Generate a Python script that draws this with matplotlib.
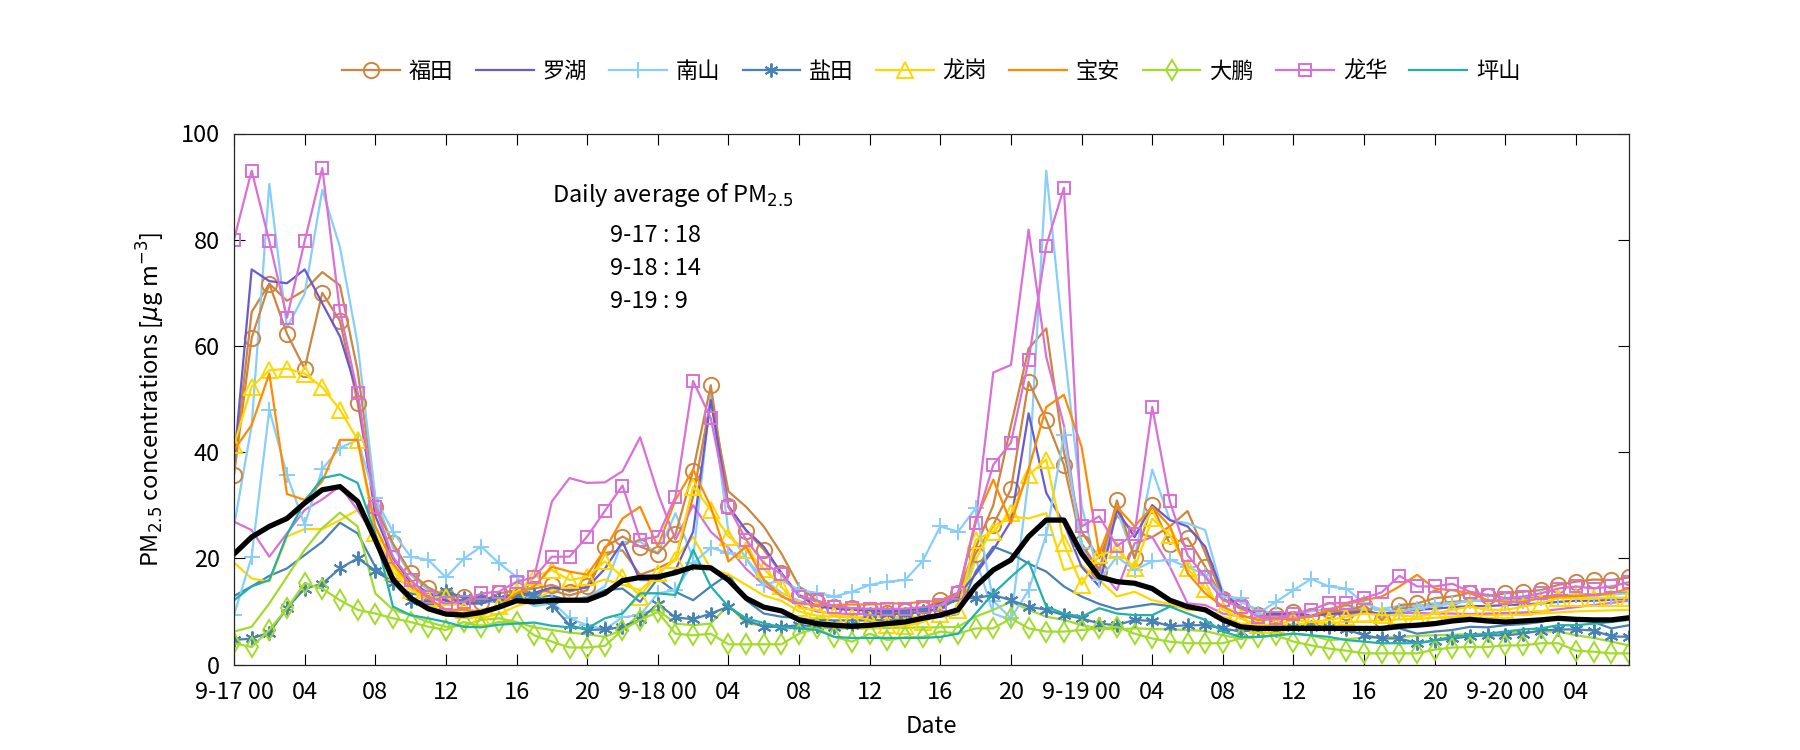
import numpy as np
import matplotlib
matplotlib.use('Agg')
import matplotlib.pyplot as plt

plt.rcParams['font.family'] = ['Noto Sans CJK SC', 'DejaVu Sans']
plt.rcParams['axes.unicode_minus'] = False

# hourly data, hour 0 = 9-17 00:00 ... hour 79 = 9-20 07:00
hours = np.arange(80)

futian = [35.7, 61.5, 71.7, 62.3, 55.7, 70, 64.7, 49.3, 29.7, 22.8, 17.3, 14.5, 12.9, 12.8, 11.8, 13.4,
          14, 14.3, 15, 13.7, 14.7, 22.1, 24.1, 22.2, 20.9, 24.5, 36.5, 52.6, 29.9, 25.2, 21.6, 17.2,
          13.1, 11.8, 10.9, 10.6, 10.3, 9.7, 10.1, 10.4, 12.1, 13.4, 20.9, 26.3, 33, 53.2, 46.1, 37.6,
          22.8, 17.7, 30.9, 20, 30, 22.7, 23.8, 18.4, 12.3, 11, 9.3, 9.3, 9.9, 9.1, 10.3, 9.9,
          11.2, 8.4, 11.2, 11.5, 12.5, 12.8, 13.5, 12.9, 13.4, 13.7, 14, 15, 15.6, 16, 15.9, 16.4]
futian_2 = [37, 66.4, 71.7, 68.5, 70.5, 73.9, 71.4, 55.4, 31, 22.5, 17, 14, 12.5, 12, 11.5, 12.5,
            13.5, 13.5, 14, 13, 14, 21, 21.5, 16.9, 18.1, 19.7, 31.6, 50, 32.6, 29.7, 26, 20.9,
            14.7, 12, 11, 10.5, 10.2, 10, 10.2, 10.5, 12, 13.5, 22, 30, 45, 59.5, 63.3, 40,
            25, 20, 28, 25, 24, 26, 28.9, 21, 12.5, 10.5, 9.5, 9.2, 9.5, 9.2, 10, 9.8,
            10.5, 9, 10.5, 11, 11.5, 11.8, 12, 12, 12.2, 12.4, 12.8, 13, 13.2, 13.2, 13.4, 13.6]
luohu = [38, 74.4, 72.2, 71.8, 74.4, 68, 61.8, 51, 28, 20, 15.5, 13.5, 12, 11.5, 11.5, 12.5,
         13, 13.5, 14.5, 14, 14.5, 18, 23.1, 15.9, 15.9, 17.8, 25, 49.8, 29.7, 25.3, 22.2, 17.2,
         13, 11, 10.5, 10.3, 10.2, 10, 10.2, 10.5, 11.5, 13, 17, 21.6, 27, 47.3, 32.3, 26.6,
         18.4, 14.7, 29.1, 24, 30, 27.2, 26, 22.2, 13.4, 10.9, 9.5, 9.5, 9.5, 9.3, 9.5, 9.7,
         10, 9.5, 10, 10.3, 10.5, 10.8, 11, 11, 11.2, 11.3, 11.5, 11.8, 12, 12, 12.2, 12.4]
nanshan = [9.3, 20.3, 48, 35.7, 26.3, 36.8, 40.8, 42.3, 31.3, 25, 20.3, 19.7, 16.4, 19.9, 22.2, 19.1,
           16.5, 12.8, 11.8, 8.7, 7.4, 6.6, 8.9, 9.3, 13.4, 14, 19.1, 22, 21, 20, 15, 15.9,
           14, 13.5, 12.8, 13.7, 15, 15.6, 15.9, 19.5, 26, 25, 29.4, 12, 8.7, 14, 24.4, 43.2,
           22, 15.9, 20.3, 17.8, 19.4, 19.7, 18.4, 16.9, 12.8, 12.5, 9.6, 11.8, 14, 16.1, 14.7, 14.3,
           11.5, 10.3, 10, 10.5, 11, 11.5, 12, 12, 12, 12, 12.5, 12.5, 13, 12.5, 12.5, 12.5]
nanshan_2 = [26, 45, 90.5, 63.4, 69.8, 89.4, 78.6, 60.4, 31.6, 22, 17, 14, 12, 11.5, 11.5, 12,
             13, 11, 11.5, 12, 12.8, 14.7, 23.1, 23.1, 21, 28.5, 20, 51, 25, 20, 16, 13.5,
             12, 11, 10.5, 10.5, 10.3, 10.3, 10.5, 10.5, 11, 12.1, 20, 9.6, 8.4, 35, 93, 60,
             30, 16, 29.1, 20, 36.7, 27.2, 26.6, 25.3, 13.4, 11.8, 10.3, 9.5, 9.5, 10, 10.5, 11,
             10.5, 10.5, 11, 11, 11.5, 11.5, 12, 12, 12, 12.2, 12.4, 12.6, 12.8, 13, 13.2, 13.4]
yantian = [4.6, 4.9, 6, 10.6, 14.3, 15.2, 18.1, 20, 17.7, 15.4, 12, 11.8, 13.9, 12.5, 12.5, 12.5,
           13, 13, 11.2, 7.4, 6.5, 6.6, 7.1, 8.5, 11.4, 8.9, 8.5, 9.6, 10.9, 8.4, 7.1, 7.1,
           7.4, 7.2, 7, 7.5, 9.5, 9.5, 9.5, 10, 10.5, 12.5, 12.5, 13.1, 12.1, 10.9, 10.3, 9.3,
           8.7, 7.7, 7.4, 8.4, 8.2, 7.2, 7.4, 7.4, 6.8, 6.2, 6.5, 6.5, 7, 7, 7, 6.6,
           5.5, 4.9, 4.9, 4, 4.5, 4.9, 5.3, 5.5, 5.5, 5.8, 6.4, 6.6, 6.6, 6.4, 5.3, 5.2]
yantian_2 = [12.9, 14.7, 16.7, 18.1, 20.6, 23.1, 26.7, 24.7, 18.4, 15.3, 13.4, 12.8, 12.1, 12.1, 12.1, 12.3,
             12.5, 12.5, 13, 12, 12.5, 14, 14.3, 11.8, 16.2, 13.7, 12.1, 14.7, 17, 12.1, 9.6, 9,
             8.7, 8.4, 8.3, 8.3, 8.3, 8.4, 8.5, 8.7, 9, 9.5, 17.5, 22.2, 20.9, 19, 17.5, 14.7,
             12.8, 11.4, 10.4, 10.9, 11.4, 11, 10.9, 10.3, 8.4, 7.2, 7.1, 7.1, 7.4, 7.4, 7.1, 7,
             6.8, 6.5, 6.8, 5.8, 6.2, 6.5, 7.1, 7, 7.4, 7.6, 8, 8.8, 8.5, 8, 6.8, 7.4]
longgang = [41.3, 52.3, 55.4, 55.7, 54.8, 52.2, 48, 42.3, 24.7, 17.5, 14, 12.5, 12.8, 10.3, 9, 11,
            13.7, 16.5, 17.8, 15.9, 16.5, 19.4, 16.5, 12.8, 17.2, 19.7, 33.5, 29.1, 24.1, 21.6, 18, 14.7,
            10.6, 10.3, 9.3, 9, 8.4, 7.4, 7.2, 8, 9.6, 10.3, 23.5, 25, 28.5, 35.7, 38.6, 22.8,
            15, 20.6, 21.6, 18.1, 27.5, 24.4, 18.1, 14.3, 10.3, 8.7, 7.4, 7.4, 8.4, 8, 8.4, 9,
            9.6, 9.3, 9.2, 9, 9.6, 10.3, 10.9, 10.3, 10.3, 10.9, 11.5, 12.5, 12.5, 12.5, 12.6, 12.6]
longgang_2 = [19.2, 16.2, 15.6, 24.1, 25.5, 25.5, 27.2, 29.1, 24.1, 18.4, 14.7, 11.5, 9.6, 9.3, 8.7, 9.5,
              11, 12, 14, 14.5, 15, 16, 15, 14, 17, 20, 24, 18, 17, 15, 13, 12,
              10, 9.2, 9, 8.9, 8.9, 8.9, 9, 9, 9.3, 9.6, 19.7, 26, 27.9, 27.5, 28.5, 17.8,
              18.7, 15.9, 12.8, 13.7, 12.1, 11.4, 10.3, 10.3, 9, 7.7, 7.5, 7.5, 7.6, 7.7, 7.8, 8,
              8.1, 8.3, 8.5, 8.6, 8.8, 9, 9.2, 9.3, 9.4, 9.5, 9.6, 9.8, 10, 10.1, 10.2, 10.3]
baoan = [40.4, 45.1, 54.8, 32.1, 31, 34.5, 42.3, 42.3, 26, 19, 15, 12.5, 10.3, 10.3, 10, 11,
         13.4, 14.7, 18.4, 17.5, 16.9, 21.6, 27.5, 29.7, 22.2, 31, 36.7, 29.7, 19.4, 22.2, 15.9, 12.8,
         11.5, 11.2, 11.2, 11.3, 11.3, 11.5, 11.5, 11.8, 12, 13, 27.2, 34.8, 26.6, 36.8, 48.5, 50.8,
         41, 20.9, 29.7, 26, 29.7, 26, 17.2, 13.4, 10.9, 9.3, 8.4, 8.5, 8.6, 9, 10.3, 11.4,
         12.1, 12.8, 14.7, 16.9, 14.3, 14, 13.4, 12.1, 11.8, 11.8, 12.5, 12.8, 12.9, 13.1, 13.4, 14.3]
dapeng = [4, 3.3, 6.5, 10.6, 15.3, 14.3, 12.1, 10.3, 9.6, 8.7, 8, 7.1, 6.5, 8, 7.1, 8,
          8, 5.5, 4.3, 3.2, 3.2, 3.5, 6.5, 8.4, 9.9, 5.8, 5.5, 5.8, 3.8, 3.8, 3.8, 3.8,
          5.8, 6.8, 5.2, 4.3, 5.8, 4.6, 5.1, 5.2, 6.2, 5.8, 6.8, 6.8, 8.7, 6.8, 6.2, 6.2,
          6.5, 6.8, 7.1, 5.8, 4.9, 4.3, 4, 4, 4, 4.9, 5.2, 5.5, 4.3, 3.6, 3, 2.6,
          2.1, 2.1, 2.1, 2.1, 2.8, 3.2, 3.3, 3.3, 3.6, 3.6, 4, 4, 2.6, 2.4, 2.1, 2.1]
dapeng_2 = [6.2, 7.1, 11.5, 16.5, 21.6, 25.7, 28.6, 26, 13.4, 10.3, 9.3, 8, 7.1, 7.3, 8.4, 8.7,
            8, 7, 6.5, 6, 5.7, 5.2, 6.5, 9.6, 10.3, 7.7, 7.4, 7.7, 11.2, 7.7, 7.4, 7.1,
            7, 6.9, 6.8, 6.8, 6.8, 6.9, 6.9, 7, 7, 7.1, 9, 10.3, 11.8, 10.3, 9, 8.4,
            7.4, 6.8, 6.6, 6.8, 6.7, 6.6, 6.5, 6.3, 5.5, 4.9, 5.2, 5.5, 5.8, 5.5, 4.6, 4.8,
            5, 5.1, 5.2, 5.4, 5.5, 5.6, 5.7, 5.8, 6, 6.1, 6.2, 6.2, 5.5, 5, 4.3, 3.6]
longhua = [80, 93, 79.7, 65.3, 79.7, 93.5, 66.5, 51.2, 29.7, 20.3, 15.9, 12.8, 11.5, 11.8, 13.4, 13.7,
           15.6, 16.4, 20.3, 20.3, 24.1, 28.9, 33.7, 23.5, 24.1, 31.6, 53.4, 46.4, 29.7, 23.5, 19.1, 17,
           12.8, 12.1, 10.9, 10.6, 10.5, 10.5, 10.5, 10.8, 11.2, 13.4, 26.6, 37.6, 41.8, 57.3, 78.9, 89.8,
           26, 27.9, 22.3, 24.6, 48.5, 30.7, 20.6, 16.5, 12.1, 10.9, 9, 8.7, 9.6, 10.3, 11.5, 11.6,
           12.5, 13.6, 16.7, 14.7, 14.7, 15.2, 13.7, 13.1, 12.5, 12.8, 13.4, 14.3, 14.7, 14.3, 14.7, 15.5]
longhua_2 = [26.9, 25.3, 20.3, 24.7, 29.1, 31.1, 33.6, 29.1, 24, 16.5, 14.7, 12.1, 10.3, 9.6, 10.3, 10.5,
             12.8, 16.5, 30.7, 35.1, 34.2, 34.3, 36.4, 42.8, 32.3, 23.5, 30, 25, 22, 18, 15, 13,
             11, 10, 9.6, 9.5, 9.5, 9.5, 9.6, 9.8, 10.5, 13, 27, 55, 56.4, 81.9, 57.9, 45,
             22, 18, 14, 22.8, 24, 18.4, 11.5, 11.2, 9.6, 9, 8.8, 8.8, 9, 9.2, 9.4, 9.5,
             9.6, 9.6, 9.7, 9.7, 9.6, 9.6, 9.5, 9.6, 9.7, 9.8, 10, 10.4, 10.8, 11.2, 11.6, 12]
pingshan = [12.1, 14.7, 15.9, 24.4, 30.7, 35.1, 35.8, 34.2, 24.7, 10.9, 9.3, 8.7, 8, 7.1, 7, 7.5,
            7.7, 7.9, 7.3, 7, 6.8, 8.7, 9.6, 13.4, 13.4, 13.1, 21.6, 14.7, 10.9, 8.7, 7.8, 7,
            6.8, 6.5, 5.2, 5, 5, 5, 5, 5, 5.2, 5.8, 9.6, 13.4, 16.5, 19.4, 10.9, 9.6,
            9, 10.6, 9.6, 9.3, 9.3, 10.9, 9.6, 8.4, 6.2, 5.2, 5.2, 5.5, 5.8, 5.5, 5.2, 4.6,
            4.3, 4, 4, 4, 4.6, 5.2, 5.5, 5.8, 6.2, 6.6, 6.8, 7.4, 7.4, 7.7, 8, 8.4]
mean_all = [20.8, 24, 26, 27.5, 30.4, 32.9, 33.5, 30.7, 23.5, 16, 12.5, 10.5, 9.5, 9.3, 9.8, 10.8,
            12, 11.8, 12.1, 12.1, 12.1, 13.4, 15.8, 16.4, 16.5, 17.3, 18.4, 18.2, 15.9, 12.5, 10.8, 10.1,
            8.4, 7.7, 7.4, 7.2, 7.4, 7.7, 8, 8.7, 9.3, 10.3, 14.7, 17.8, 19.7, 24.1, 27.2, 27.2,
            20.9, 16.5, 15.6, 15.3, 14.3, 12.1, 10.9, 10.3, 8.4, 7.1, 6.8, 6.8, 6.8, 6.8, 6.8, 6.8,
            6.8, 6.8, 7.2, 7.4, 7.7, 8.2, 8.5, 8.2, 8, 8.2, 8.4, 8.7, 8.5, 8.4, 8.4, 8.8]

tick_hours = np.arange(0, 80, 4)
tick_labels = ['9-17 00', '04', '08', '12', '16', '20',
               '9-18 00', '04', '08', '12', '16', '20',
               '9-19 00', '04', '08', '12', '16', '20',
               '9-20 00', '04']

lime = '#a2dc2a'
asterisk = (6, 2, 0)
# (name, data, colour, marker)
series = [
    ('福田', futian, 'peru', 'o'),
    ('罗湖', luohu, 'slateblue', None),
    ('南山', nanshan, 'lightskyblue', '+'),
    ('盐田', yantian, 'steelblue', asterisk),
    ('龙岗', longgang, 'gold', '^'),
    ('宝安', baoan, 'darkorange', None),
    ('大鹏', dapeng, lime, 'd'),
    ('龙华', longhua, 'orchid', 's'),
    ('坪山', pingshan, 'lightseagreen', None),
]
twins = [
    (futian_2, 'peru'), (nanshan_2, 'lightskyblue'), (yantian_2, 'steelblue'),
    (longgang_2, 'gold'), (dapeng_2, lime), (longhua_2, 'orchid'),
]
msize = {'o': 11, '+': 11, '^': 11, 'd': 10, 's': 8}

fig = plt.figure(figsize=(18, 7.5), dpi=100)
ax = fig.add_axes([0.130, 0.114, 0.775, 0.708])

for data, c in twins:
    ax.plot(hours, data, color=c, lw=1.6)

handles = []
for name, data, c, m in series:
    if m is None:
        h, = ax.plot(hours, data, color=c, lw=1.6, label=name)
    else:
        ms = msize.get(m, 10) if isinstance(m, str) else 10
        h, = ax.plot(hours, data, color=c, lw=1.6, marker=m, markersize=ms,
                     markerfacecolor='none', markeredgewidth=1.4, label=name)
    handles.append(h)

ax.plot(hours, mean_all, color='black', lw=3.8)

ax.set_xlim(0, 79)
ax.set_ylim(0, 100)
ax.set_xticks(tick_hours)
ax.set_xticklabels(tick_labels)
ax.set_yticks(np.arange(0, 101, 20))
ax.tick_params(direction='in', top=True, right=True, labelsize=17, length=8, width=0.8)
ax.tick_params(axis='x', pad=12)
ax.tick_params(axis='y', pad=10)
for s in ax.spines.values():
    s.set_linewidth(0.9)
    s.set_color('#262626')

ax.set_xlabel('Date', fontsize=17, labelpad=8)
ax.set_ylabel('PM$_{2.5}$ concentrations [$\\mu$g m$^{-3}$]', fontsize=17, labelpad=10)

ax.text(18, 88.5, 'Daily average of PM$_{2.5}$', fontsize=17, va='center')
ax.text(21.3, 80.8, '9-17 : 18', fontsize=17, va='center')
ax.text(21.3, 74.6, '9-18 : 14', fontsize=17, va='center')
ax.text(21.3, 68.4, '9-19 : 9', fontsize=17, va='center')

ax.legend(handles=handles, loc='center', bbox_to_anchor=(0.5, 1.117), ncol=9,
          frameon=False, fontsize=16, handlelength=2.6, handletextpad=0.4,
          columnspacing=1.0)

fig.savefig('out.png', dpi=100)
